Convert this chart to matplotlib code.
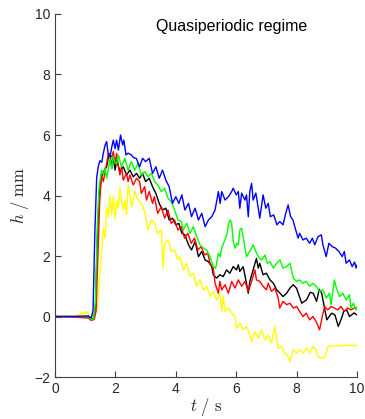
import numpy as np
import matplotlib
matplotlib.use('Agg')
import matplotlib.pyplot as plt

plt.rcParams['font.family'] = ['Liberation Sans', 'DejaVu Sans']
plt.rcParams['mathtext.fontset'] = 'cm'

# (t [s], h [mm]), one list per run
blue = [(0, 0), (0.6, 0), (1.1, 0.02), (1.2, -0.05), (1.26, 0.2), (1.32, 2.8), (1.38, 4.6),
        (1.44, 5.0), (1.49, 5.15), (1.55, 5.1), (1.6, 5.4), (1.66, 5.67), (1.71, 5.78), (1.77, 5.3),
        (1.82, 5.28), (1.88, 5.6), (1.93, 5.83), (1.99, 5.55), (2.04, 5.83), (2.1, 5.5), (2.17, 6.0),
        (2.24, 5.67), (2.28, 5.83), (2.35, 5.34), (2.42, 5.4), (2.53, 5.34), (2.6, 5.25), (2.69, 5.23),
        (2.8, 4.95), (2.9, 5.23), (3.0, 5.12), (3.12, 5.23), (3.23, 4.73), (3.34, 4.95), (3.45, 4.57),
        (3.56, 4.84), (3.67, 4.51), (3.78, 4.29), (3.89, 3.74), (4.0, 3.96), (4.1, 3.74), (4.2, 4.02),
        (4.3, 3.52), (4.42, 3.74), (4.52, 3.3), (4.64, 3.58), (4.75, 3.19), (4.86, 3.41), (4.97, 2.97),
        (5.08, 3.19), (5.19, 3.3), (5.3, 3.52), (5.41, 4.13), (5.47, 3.74), (5.52, 4.13), (5.63, 3.85),
        (5.74, 3.96), (5.85, 4.13), (5.9, 4.24), (6.0, 4.02), (6.07, 4.13), (6.12, 3.58), (6.18, 4.08),
        (6.29, 3.85), (6.34, 4.02), (6.4, 3.3), (6.45, 4.13), (6.51, 4.4), (6.56, 3.85), (6.65, 4.08),
        (6.73, 3.58), (6.78, 3.25), (6.89, 4.02), (6.98, 3.58), (7.06, 3.74), (7.13, 3.3), (7.24, 3.36),
        (7.35, 3.03), (7.44, 3.14), (7.55, 3.03), (7.64, 3.41), (7.72, 3.69), (7.8, 3.3), (7.88, 3.19),
        (7.97, 2.86), (8.05, 2.59), (8.1, 2.75), (8.21, 2.53), (8.32, 2.59), (8.43, 2.42), (8.52, 2.59),
        (8.6, 2.37), (8.71, 2.64), (8.82, 2.7), (8.87, 2.37), (8.98, 1.98), (9.07, 2.42), (9.18, 2.31),
        (9.29, 2.26), (9.4, 2.15), (9.51, 1.98), (9.58, 2.15), (9.64, 1.76), (9.75, 1.87), (9.84, 1.65),
        (9.92, 1.8), (9.97, 1.6), (10.0, 1.7)]

green = [(0, 0), (0.6, 0), (1.1, 0), (1.2, -0.1), (1.28, -0.08), (1.34, 0.5), (1.4, 3.0),
         (1.46, 4.3), (1.54, 4.84), (1.6, 4.7), (1.66, 4.9), (1.71, 4.57), (1.77, 4.9), (1.82, 5.23),
         (1.88, 4.9), (1.93, 5.28), (1.99, 5.06), (2.04, 5.06), (2.1, 5.34), (2.2, 4.95), (2.31, 5.23),
         (2.42, 4.84), (2.53, 5.12), (2.64, 4.84), (2.75, 5.06), (2.86, 4.68), (2.97, 4.79), (3.08, 4.62),
         (3.19, 4.73), (3.3, 4.46), (3.4, 4.35), (3.52, 4.13), (3.63, 4.24), (3.74, 3.91), (3.85, 3.8),
         (3.96, 3.52), (4.07, 3.19), (4.18, 3.14), (4.25, 2.86), (4.36, 3.08), (4.47, 2.75), (4.58, 2.97),
         (4.69, 2.64), (4.8, 2.37), (4.91, 2.26), (5.02, 2.2), (5.13, 1.98), (5.24, 1.65), (5.32, 1.6),
         (5.41, 2.09), (5.47, 1.98), (5.52, 2.26), (5.58, 2.42), (5.69, 2.7), (5.74, 3.03), (5.8, 3.19),
         (5.85, 3.08), (5.9, 2.48), (5.96, 2.26), (6.02, 2.42), (6.07, 2.37), (6.12, 2.86), (6.18, 2.92),
         (6.23, 2.64), (6.29, 2.26), (6.34, 1.98), (6.45, 2.15), (6.56, 2.37), (6.65, 2.15), (6.73, 1.98),
         (6.84, 1.87), (6.95, 2.03), (7.03, 1.76), (7.12, 1.81), (7.23, 1.6), (7.34, 1.76), (7.45, 1.87),
         (7.55, 1.6), (7.67, 1.65), (7.78, 1.76), (7.89, 1.27), (8.0, 1.16), (8.1, 1.21), (8.2, 1.1),
         (8.32, 1.16), (8.43, 1.0), (8.54, 1.1), (8.65, 1.0), (8.76, 0.83), (8.87, 0.88), (8.98, 0.61),
         (9.09, 0.77), (9.14, 0.39), (9.25, 1.21), (9.3, 1.0), (9.42, 0.66), (9.53, 0.77), (9.64, 0.55),
         (9.75, 0.72), (9.8, 0.28), (9.88, 0.44), (9.97, 0.22), (10.0, 0.3)]

black = [(0, 0), (0.6, 0), (1.1, -0.02), (1.2, -0.12), (1.28, -0.05), (1.34, 0.3), (1.4, 2.5),
         (1.46, 4.0), (1.54, 4.62), (1.6, 4.75), (1.66, 4.9), (1.71, 4.95), (1.77, 5.28), (1.82, 5.39),
         (1.88, 4.9), (1.93, 5.28), (1.99, 4.84), (2.04, 5.17), (2.15, 4.79), (2.26, 4.95), (2.37, 4.68),
         (2.48, 4.84), (2.59, 4.62), (2.7, 4.73), (2.8, 4.57), (2.9, 4.73), (3.0, 4.46), (3.12, 4.57),
         (3.23, 4.29), (3.34, 4.07), (3.45, 3.74), (3.56, 3.52), (3.67, 3.58), (3.78, 3.19), (3.89, 3.25),
         (4.0, 3.03), (4.1, 3.08), (4.2, 2.75), (4.3, 2.7), (4.42, 2.37), (4.52, 2.2), (4.64, 2.48),
         (4.75, 1.98), (4.86, 2.15), (4.97, 1.87), (5.08, 1.81), (5.19, 1.65), (5.24, 1.38), (5.35, 1.27),
         (5.46, 1.38), (5.57, 1.32), (5.68, 1.54), (5.79, 1.43), (5.9, 1.65), (6.01, 1.54), (6.07, 1.71),
         (6.12, 1.49), (6.23, 1.65), (6.34, 1.1), (6.4, 0.77), (6.45, 1.16), (6.56, 1.54), (6.67, 1.92),
         (6.73, 1.6), (6.78, 1.76), (6.89, 1.38), (7.0, 1.43), (7.12, 1.21), (7.23, 1.1), (7.34, 0.88),
         (7.45, 0.77), (7.55, 0.66), (7.67, 0.77), (7.78, 0.94), (7.89, 1.05), (8.0, 0.93), (8.17, 0.44),
         (8.33, 0.55), (8.45, 0.8), (8.55, 0.77), (8.66, 0.5), (8.75, 0.9), (8.83, 0.77), (9.0, -0.11),
         (9.16, 0.11), (9.27, 0.05), (9.38, -0.33), (9.49, -0.05), (9.56, 0.17), (9.66, 0.22),
         (9.75, 0.0), (9.82, 0.05), (9.9, 0.12), (10.0, 0.05)]

red = [(0, 0), (0.6, -0.02), (1.1, -0.05), (1.2, -0.12), (1.3, -0.1), (1.36, 0.2), (1.42, 2.0),
       (1.48, 3.8), (1.54, 4.68), (1.6, 4.46), (1.71, 5.06), (1.77, 5.39), (1.88, 5.28), (1.93, 5.45),
       (1.99, 5.06), (2.04, 5.39), (2.1, 4.95), (2.15, 4.68), (2.2, 4.95), (2.26, 4.51), (2.37, 4.73),
       (2.42, 4.46), (2.48, 4.68), (2.59, 4.35), (2.7, 4.57), (2.8, 4.46), (2.86, 4.07), (2.97, 4.29),
       (3.03, 3.85), (3.12, 4.13), (3.23, 3.74), (3.29, 3.96), (3.4, 3.41), (3.52, 3.63), (3.63, 3.25),
       (3.74, 3.52), (3.85, 3.08), (3.96, 3.19), (4.07, 2.86), (4.18, 2.97), (4.29, 2.59), (4.4, 2.75),
       (4.51, 2.42), (4.62, 2.59), (4.73, 2.2), (4.84, 2.31), (4.95, 2.04), (5.06, 2.09), (5.13, 1.76),
       (5.24, 1.6), (5.3, 1.1), (5.41, 0.77), (5.46, 1.16), (5.52, 0.88), (5.63, 1.05), (5.74, 0.77),
       (5.85, 1.16), (5.96, 0.94), (6.07, 1.21), (6.18, 1.0), (6.29, 1.16), (6.4, 0.83), (6.51, 1.16),
       (6.62, 1.54), (6.67, 1.21), (6.78, 1.16), (6.89, 1.0), (7.0, 0.88), (7.06, 1.1), (7.17, 0.83),
       (7.28, 0.94), (7.39, 0.61), (7.44, 0.28), (7.55, 0.5), (7.67, 0.39), (7.78, 0.44), (7.89, 0.28),
       (8.0, 0.33), (8.1, 0.17), (8.21, 0.0), (8.32, 0.11), (8.43, -0.11), (8.54, 0.0), (8.65, -0.17),
       (8.76, -0.44), (8.85, 0.0), (8.93, 0.33), (9.03, 0.22), (9.14, 0.33), (9.25, 0.28), (9.36, 0.22),
       (9.47, 0.33), (9.58, 0.17), (9.69, 0.28), (9.8, 0.22), (9.91, 0.28), (10.0, 0.3)]

yellow = [(0, 0), (0.5, 0), (0.8, 0.02), (0.85, 0.12), (0.9, 0.05), (0.95, 0.15), (1.0, 0.08),
          (1.05, 0.16), (1.1, 0.1), (1.16, 0.0), (1.22, -0.05), (1.3, -0.02), (1.38, 0.2), (1.44, 0.8),
          (1.49, 1.5), (1.55, 2.2), (1.6, 2.9), (1.66, 2.6), (1.71, 3.6), (1.77, 3.3), (1.82, 4.0),
          (1.88, 3.36), (1.93, 3.96), (1.99, 3.25), (2.04, 3.85), (2.1, 3.58), (2.15, 4.25), (2.2, 3.85),
          (2.26, 3.52), (2.31, 3.85), (2.37, 3.36), (2.42, 4.35), (2.48, 4.02), (2.53, 3.63), (2.59, 3.85),
          (2.64, 4.13), (2.7, 3.96), (2.8, 3.8), (2.86, 3.74), (2.97, 3.47), (3.08, 2.86), (3.19, 3.19),
          (3.3, 3.08), (3.4, 2.75), (3.52, 2.86), (3.58, 1.6), (3.63, 2.42), (3.74, 2.53), (3.85, 2.15),
          (3.96, 2.2), (4.07, 1.87), (4.14, 1.98), (4.25, 1.54), (4.36, 1.76), (4.47, 1.32), (4.58, 1.43),
          (4.69, 1.0), (4.8, 1.21), (4.91, 0.88), (5.02, 1.0), (5.13, 0.66), (5.24, 0.83), (5.35, 0.55),
          (5.46, 0.77), (5.52, 0.17), (5.57, 0.66), (5.63, 0.17), (5.74, 0.28), (5.85, 0.11), (5.96, 0.0),
          (6.01, -0.39), (6.12, -0.22), (6.23, -0.44), (6.34, -0.33), (6.45, -0.61), (6.51, -0.83),
          (6.62, -0.5), (6.73, -0.72), (6.84, -0.44), (6.95, -0.77), (7.06, -0.61), (7.17, -0.88),
          (7.28, -0.33), (7.34, -0.77), (7.39, -1.05), (7.5, -0.99), (7.61, -1.21), (7.72, -1.32),
          (7.78, -1.49), (7.89, -1.1), (8.0, -1.21), (8.1, -1.1), (8.21, -1.21), (8.32, -1.05),
          (8.43, -1.21), (8.54, -0.99), (8.65, -1.1), (8.7, -1.32), (8.82, -1.38), (8.93, -1.32),
          (8.98, -1.21), (9.03, -0.99), (9.2, -0.97), (10.0, -0.95)]

series = [(yellow, '#ffff00'), (black, '#000000'), (red, '#ff0000'),
          (green, '#00ff00'), (blue, '#0000ff')]

x_ticks = [0, 2, 4, 6, 8, 10]
y_ticks = [-2, 0, 2, 4, 6, 8, 10]

fig = plt.figure(figsize=(3.65, 4.19), dpi=100)
ax = fig.add_axes([0.1507, 0.1002, 0.8274, 0.8664])

for data, col in series:
    t, h = np.array(data).T
    ax.plot(t, h, color=col, lw=1.0)

ax.set_xlim(0, 10)
ax.set_ylim(-2, 10)
ax.set_xticks(x_ticks)
ax.set_yticks(y_ticks)

axcol = '#404040'
for s in ['top', 'right']:
    ax.spines[s].set_visible(False)
for s in ['left', 'bottom']:
    ax.spines[s].set_color(axcol)
    ax.spines[s].set_linewidth(0.8)
ax.tick_params(direction='in', length=4, width=0.8, colors=axcol,
               labelsize=10, labelcolor='#262626')

ax.set_xlabel(r'$t\ /\ \mathrm{s}$', fontsize=12, color='#262626', labelpad=0)
ax.set_ylabel(r'$h\ /\ \mathrm{mm}$', fontsize=12, color='#262626', labelpad=2)

ax.text(0.586, 0.985, 'Quasiperiodic regime', transform=ax.transAxes,
        ha='center', va='top', fontsize=11.5, color='black')

fig.savefig('out.png', dpi=100)
